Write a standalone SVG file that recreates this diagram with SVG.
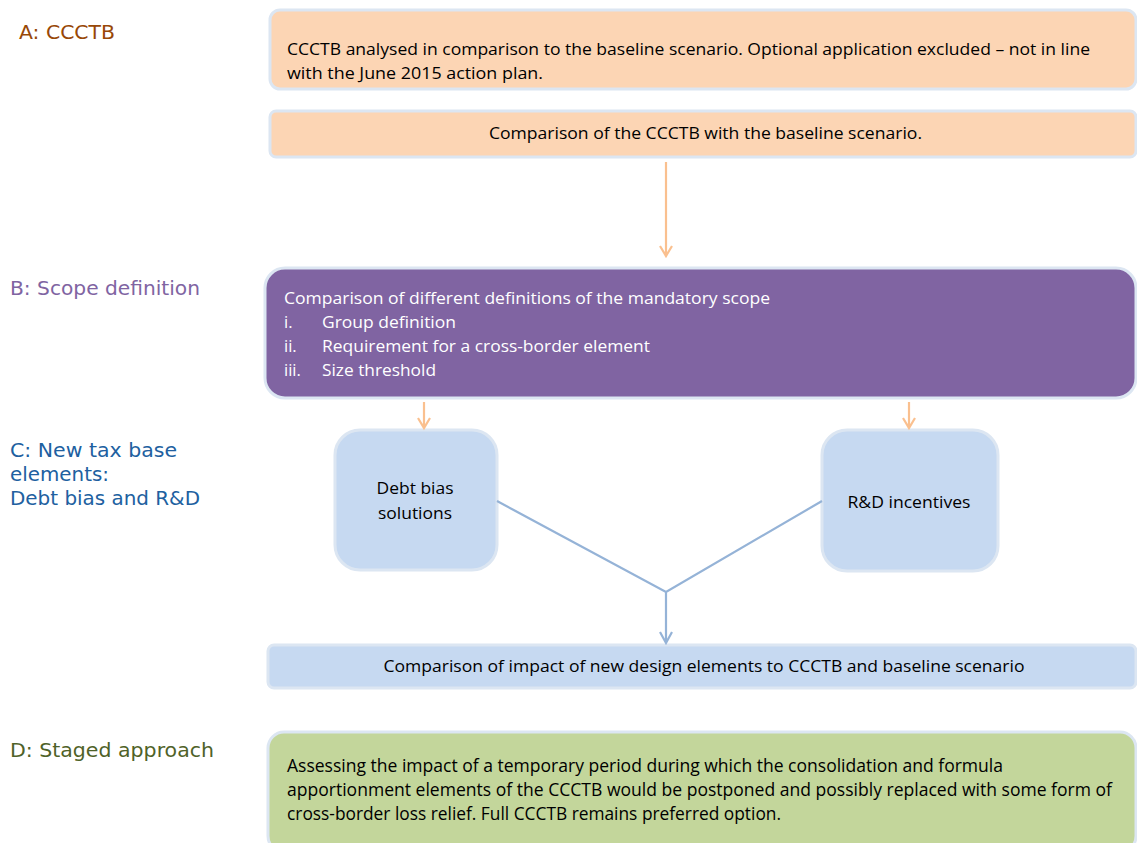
<svg xmlns="http://www.w3.org/2000/svg" width="1137" height="843" viewBox="0 0 1137 843">
<defs>
<style>
.box{stroke:#dce6f2;stroke-width:3}
.peach{fill:#fcd5b4}
.purple{fill:#8064a2}
.blue{fill:#c6d9f1}
.green{fill:#c3d69b}
.t{font-family:"Open Sans","Liberation Sans",sans-serif;font-size:16.5px;fill:#000}
.td{font-family:"Open Sans","Liberation Sans",sans-serif;font-size:18px;fill:#000}
.tw{font-family:"Open Sans","Liberation Sans",sans-serif;font-size:16.5px;fill:#fff}
.lbl{font-family:"DejaVu Sans","Verdana",sans-serif;font-size:20px}
.oa{fill:none;stroke:#fac08f;stroke-width:2.2}
.ba{fill:none;stroke:#95b3d7;stroke-width:2.2}
</style>
</defs>
<rect width="1137" height="843" fill="#fff"/>
<g id="labels">
<text class="lbl" x="19" y="39" fill="#984807" textLength="96" lengthAdjust="spacingAndGlyphs">A: CCCTB</text>
<text class="lbl" x="10" y="295" fill="#8064a2" textLength="190" lengthAdjust="spacingAndGlyphs">B: Scope definition</text>
<text class="lbl" x="10" y="457" fill="#2060a0" textLength="167" lengthAdjust="spacingAndGlyphs">C: New tax base</text>
<text class="lbl" x="10" y="481" fill="#2060a0" textLength="99" lengthAdjust="spacingAndGlyphs">elements:</text>
<text class="lbl" x="10" y="505" fill="#2060a0" textLength="190" lengthAdjust="spacingAndGlyphs">Debt bias and R&amp;D</text>
<text class="lbl" x="10" y="757" fill="#4f6228" textLength="204" lengthAdjust="spacingAndGlyphs">D: Staged approach</text>
</g>
<g id="nodeA1">
<rect class="box peach" x="270" y="10" width="866" height="79" rx="10"/>
<text class="t" x="287" y="55" textLength="803" lengthAdjust="spacingAndGlyphs">CCCTB analysed in comparison to the baseline scenario. Optional application excluded – not in line</text>
<text class="t" x="287" y="79" textLength="256" lengthAdjust="spacingAndGlyphs">with the June 2015 action plan.</text>
</g>
<g id="nodeA2">
<rect class="box peach" x="270" y="111" width="866" height="46" rx="6"/>
<text class="t" x="489" y="139" textLength="433" lengthAdjust="spacingAndGlyphs">Comparison of the CCCTB with the baseline scenario.</text>
</g>
<g id="nodeB">
<rect class="box purple" x="265" y="268" width="871" height="130" rx="20"/>
<text class="tw" x="284" y="304" textLength="486" lengthAdjust="spacingAndGlyphs">Comparison of different definitions of the mandatory scope</text>
<text class="tw" x="284" y="328">i.</text>
<text class="tw" x="322" y="328" textLength="134" lengthAdjust="spacingAndGlyphs">Group definition</text>
<text class="tw" x="284" y="352">ii.</text>
<text class="tw" x="322" y="352" textLength="328" lengthAdjust="spacingAndGlyphs">Requirement for a cross-border element</text>
<text class="tw" x="284" y="376">iii.</text>
<text class="tw" x="322" y="376" textLength="114" lengthAdjust="spacingAndGlyphs">Size threshold</text>
</g>
<g id="nodeDebt">
<rect class="box blue" x="335" y="430" width="162" height="140" rx="25"/>
<text class="t" x="415" y="494" text-anchor="middle" textLength="77" lengthAdjust="spacingAndGlyphs">Debt bias</text>
<text class="t" x="415" y="519" text-anchor="middle" textLength="74" lengthAdjust="spacingAndGlyphs">solutions</text>
</g>
<g id="nodeRD">
<rect class="box blue" x="822" y="430" width="176" height="141" rx="25"/>
<text class="t" x="909" y="508" text-anchor="middle" textLength="123" lengthAdjust="spacingAndGlyphs">R&amp;D incentives</text>
</g>
<g id="nodeC">
<rect class="box blue" x="268" y="645" width="868" height="43" rx="6"/>
<text class="t" x="704" y="672" text-anchor="middle" textLength="641" lengthAdjust="spacingAndGlyphs">Comparison of impact of new design elements to CCCTB and baseline scenario</text>
</g>
<g id="nodeD">
<rect class="box green" x="268" y="732" width="868" height="120" rx="16"/>
<text class="td" x="287" y="772" textLength="716" lengthAdjust="spacingAndGlyphs">Assessing the impact of a temporary period during which the consolidation and formula</text>
<text class="td" x="287" y="796" textLength="825" lengthAdjust="spacingAndGlyphs">apportionment elements of the CCCTB would be postponed and possibly replaced with some form of</text>
<text class="td" x="287" y="820" textLength="494" lengthAdjust="spacingAndGlyphs">cross-border loss relief. Full CCCTB remains preferred option.</text>
</g>
<g id="connectors">
<path class="oa" d="M666,162 V256 M660,246 L666,256 L672,246"/>
<path class="oa" d="M424,402 V428 M418,418 L424,428 L430,418"/>
<path class="oa" d="M909,402 V428 M903,418 L909,428 L915,418"/>
<path class="ba" d="M497,501 L666,592 L822,501 M666,592 V643 M660,632 L666,643 L672,632"/>
</g>
</svg>
